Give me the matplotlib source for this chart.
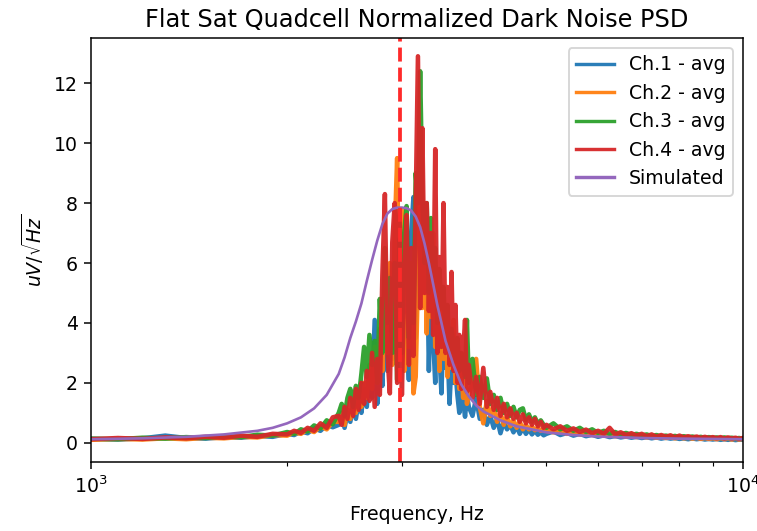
import matplotlib
matplotlib.use("Agg")
import matplotlib.pyplot as plt

# ---- data ----
freq_hz = ([1000, 1100, 1200, 1300, 1400, 1500, 1600, 1700, 1800, 1900,
            2000, 2050, 2100, 2150, 2200, 2250, 2300, 2350]
           + [2400, 2425, 2450, 2475, 2500, 2525, 2550, 2575, 2600, 2625,
              2650, 2675, 2700, 2725, 2750, 2775, 2800, 2825, 2850, 2875,
              2900, 2925, 2950, 2975, 3000, 3025, 3050, 3075, 3100, 3125,
              3150, 3175, 3200, 3225, 3250, 3275, 3300, 3325, 3350, 3375,
              3400, 3425, 3450, 3475, 3500, 3525, 3550, 3575, 3600, 3625,
              3650, 3675, 3700, 3725, 3750, 3775]
           + [3800, 3850, 3900, 3950, 4000, 4050, 4100, 4150, 4200, 4250,
              4300, 4350, 4400, 4450, 4500, 4550, 4600, 4650, 4700, 4750,
              4800, 4850, 4900, 4950]
           + [5000, 5125, 5250, 5375, 5500, 5625, 5750, 5875, 6000, 6125,
              6250, 6375, 6500, 6625, 6750, 6875, 7000, 7125, 7250, 7375,
              7500, 7625, 7750, 7875, 8000, 8125, 8250, 8375, 8500, 8625,
              8750, 8875, 9000, 9125, 9250, 9375, 9500, 9625, 9750, 9875,
              10000])

ch1 = ([0.13, 0.11, 0.15, 0.24, 0.16, 0.14, 0.19, 0.17, 0.23, 0.2,
        0.3, 0.26, 0.38, 0.32, 0.48, 0.4, 0.6, 0.52]
       + [0.6, 0.9, 0.5, 1.0, 0.7, 1.2, 0.8, 1.4, 1.0, 1.8,
          1.2, 2.4, 1.5, 4.1, 1.3, 3.0, 1.9, 4.5, 2.4, 5.0,
          2.8, 6.0, 3.0, 5.5, 3.4, 6.5, 4.0, 2.1, 7.0, 8.2,
          3.5, 6.5, 4.5, 7.0, 5.0, 7.2, 2.4, 5.5, 3.5, 2.0,
          4.5, 3.0, 1.65, 4.0, 2.5, 3.2, 1.3, 2.8, 2.0, 2.4,
          1.6, 1.0, 2.0, 1.4, 0.87, 1.6]
       + [1.2, 0.9, 1.5, 0.8, 1.1, 0.6, 0.9, 0.5, 0.8, 0.32,
          0.7, 0.45, 0.6, 0.35, 0.55, 0.3, 0.5, 0.3, 0.45, 0.28,
          0.4, 0.27, 0.35, 0.25]
       + [0.3, 0.38, 0.26, 0.33, 0.24, 0.3, 0.22, 0.27, 0.2, 0.25,
          0.19, 0.23, 0.18, 0.21, 0.17, 0.2, 0.16, 0.19, 0.15, 0.18,
          0.14, 0.17, 0.14, 0.16, 0.13, 0.15, 0.12, 0.15, 0.12, 0.14,
          0.11, 0.13, 0.11, 0.13, 0.1, 0.12, 0.1, 0.12, 0.09, 0.11,
          0.1])

ch2 = ([0.1, 0.13, 0.11, 0.15, 0.12, 0.17, 0.15, 0.2, 0.18, 0.26,
        0.24, 0.34, 0.3, 0.44, 0.36, 0.55, 0.45, 0.7]
       + [0.7, 1.0, 0.6, 1.1, 0.8, 1.4, 1.0, 1.6, 1.2, 2.0,
          1.5, 2.6, 1.8, 3.2, 2.0, 3.8, 2.4, 5.5, 3.0, 6.0,
          2.6, 7.0, 9.5, 3.5, 7.8, 2.4, 6.8, 3.2, 6.0, 1.65,
          2.2, 5.5, 9.0, 4.5, 7.5, 3.65, 6.5, 4.2, 7.0, 3.2,
          5.0, 2.4, 5.0, 2.8, 4.5, 2.2, 3.8, 2.5, 4.1, 2.0,
          3.0, 1.8, 2.6, 1.5, 2.8, 1.3]
       + [1.6, 2.0, 2.8, 1.2, 0.65, 1.4, 0.9, 1.2, 0.7, 1.0,
          0.6, 0.9, 0.55, 0.75, 0.5, 0.7, 0.45, 0.6, 0.45, 0.55,
          0.42, 0.5, 0.4, 0.45]
       + [0.4, 0.35, 0.42, 0.3, 0.36, 0.28, 0.32, 0.26, 0.3, 0.24,
          0.27, 0.22, 0.26, 0.2, 0.24, 0.19, 0.22, 0.18, 0.21, 0.17,
          0.2, 0.16, 0.19, 0.15, 0.18, 0.15, 0.17, 0.14, 0.17, 0.13,
          0.16, 0.13, 0.15, 0.12, 0.15, 0.12, 0.14, 0.11, 0.14, 0.11,
          0.13])

ch3 = ([0.14, 0.12, 0.17, 0.14, 0.19, 0.16, 0.22, 0.19, 0.27, 0.24,
        0.36, 0.3, 0.45, 0.38, 0.58, 0.48, 0.75, 0.62]
       + [1.0, 1.3, 0.9, 1.5, 1.8, 1.2, 1.9, 1.5, 2.3, 3.2,
          2.2, 3.6, 2.6, 3.4, 2.0, 4.8, 3.0, 6.5, 4.0, 5.5,
          3.0, 6.0, 2.1, 6.8, 3.0, 7.0, 7.9, 3.5, 6.0, 4.0,
          9.0, 8.0, 12.4, 8.3, 6.0, 8.0, 5.0, 7.5, 5.5, 6.5,
          4.0, 5.8, 4.5, 5.2, 3.5, 4.6, 3.0, 3.8, 3.2, 2.7,
          3.5, 2.4, 3.0, 2.6, 2.2, 4.1]
       + [2.0, 2.8, 1.6, 2.2, 1.5, 2.15, 1.3, 1.6, 1.1, 1.5,
          1.0, 1.3, 0.9, 1.2, 0.85, 1.1, 1.15, 0.75, 0.95, 0.7,
          0.85, 0.62, 0.75, 0.6]
       + [0.5, 0.65, 0.45, 0.55, 0.4, 0.5, 0.36, 0.45, 0.33, 0.4,
          0.3, 0.36, 0.28, 0.33, 0.26, 0.3, 0.24, 0.28, 0.22, 0.26,
          0.21, 0.24, 0.2, 0.23, 0.19, 0.22, 0.18, 0.21, 0.17, 0.2,
          0.16, 0.19, 0.16, 0.18, 0.15, 0.18, 0.15, 0.17, 0.14, 0.16,
          0.14])

ch4 = ([0.12, 0.16, 0.13, 0.18, 0.15, 0.2, 0.17, 0.24, 0.2, 0.3,
        0.28, 0.4, 0.33, 0.5, 0.4, 0.65, 0.5, 0.85]
       + [0.9, 0.6, 1.2, 0.8, 1.5, 0.9, 1.8, 1.1, 2.0, 1.3,
          2.4, 1.4, 3.0, 1.2, 2.8, 1.6, 5.6, 8.3, 3.0, 1.65,
          6.7, 8.0, 2.0, 7.8, 1.6, 5.5, 7.6, 2.6, 6.5, 2.9,
          8.0, 12.9, 4.5, 10.5, 5.0, 8.0, 4.4, 7.0, 3.6, 9.8,
          3.0, 6.2, 3.2, 8.0, 3.0, 5.2, 2.6, 5.7, 2.4, 4.6,
          2.0, 3.6, 1.8, 3.0, 4.1, 1.7]
       + [2.6, 1.5, 2.2, 1.3, 2.5, 1.2, 1.7, 1.1, 1.5, 0.9,
          1.3, 0.85, 1.15, 0.8, 1.0, 0.7, 0.95, 0.65, 0.85, 0.6,
          0.8, 0.55, 0.7, 0.5]
       + [0.6, 0.45, 0.55, 0.4, 0.48, 0.36, 0.44, 0.32, 0.4, 0.3,
          0.5, 0.28, 0.35, 0.26, 0.32, 0.24, 0.3, 0.22, 0.28, 0.2,
          0.26, 0.2, 0.25, 0.18, 0.24, 0.18, 0.22, 0.17, 0.21, 0.16,
          0.2, 0.16, 0.19, 0.15, 0.19, 0.14, 0.18, 0.14, 0.17, 0.13,
          0.16])

sim_freq = [1000, 1200, 1400, 1600, 1800, 1900, 2000, 2100, 2200, 2300,
            2400, 2450, 2500, 2550, 2600, 2650, 2700, 2750, 2800, 2850,
            2900, 2950, 3000, 3050, 3100, 3150, 3200, 3250, 3300, 3350,
            3400, 3450, 3500, 3600, 3700, 3800, 3900, 4000, 4250, 4500,
            5000, 5500, 6000, 7000, 8000, 10000]
sim_vals = [0.12, 0.15, 0.2, 0.28, 0.4, 0.5, 0.65, 0.85, 1.15, 1.6,
            2.3, 2.85, 3.5, 4.05, 4.65, 5.4, 6.1, 6.75, 7.3, 7.65,
            7.8, 7.85, 7.85, 7.83, 7.75, 7.55, 7.2, 6.65, 6.0, 5.3,
            4.6, 4.0, 3.4, 2.6, 1.95, 1.55, 1.25, 1.05, 0.75, 0.55,
            0.35, 0.26, 0.21, 0.16, 0.14, 0.12]

series_labels = ["Ch.1 - avg", "Ch.2 - avg", "Ch.3 - avg", "Ch.4 - avg"]
resonance_hz = 2980

# ---- figure ----
DPI = 136
fig = plt.figure(figsize=(757 / DPI, 531 / DPI), dpi=DPI)
ax = fig.add_axes([0.1202, 0.1294, 0.981 - 0.1202, 0.9279 - 0.1294])

for vals, lab in zip([ch1, ch2, ch3, ch4], series_labels):
    ax.plot(freq_hz, vals, label=lab, linewidth=2.4, alpha=0.95)
ax.plot(sim_freq, sim_vals, label="Simulated", color="C4", linewidth=1.4)
ax.axvline(resonance_hz, color="#ff2a2a", linestyle="--", linewidth=2.0)

ax.set_xscale("log")
ax.set_xlim(1000, 10000)
ax.set_ylim(-0.65, 13.5)
ax.set_yticks([0, 2, 4, 6, 8, 10, 12])
ax.set_title("Flat Sat Quadcell Normalized Dark Noise PSD", fontsize=12.7)
ax.set_xlabel("Frequency, Hz")
ax.set_ylabel(r"$uV/\sqrt{Hz}$")
leg = ax.legend(loc="upper right")
for line in leg.get_lines():
    line.set_linewidth(1.8)

fig.savefig("out.png", dpi=DPI)
